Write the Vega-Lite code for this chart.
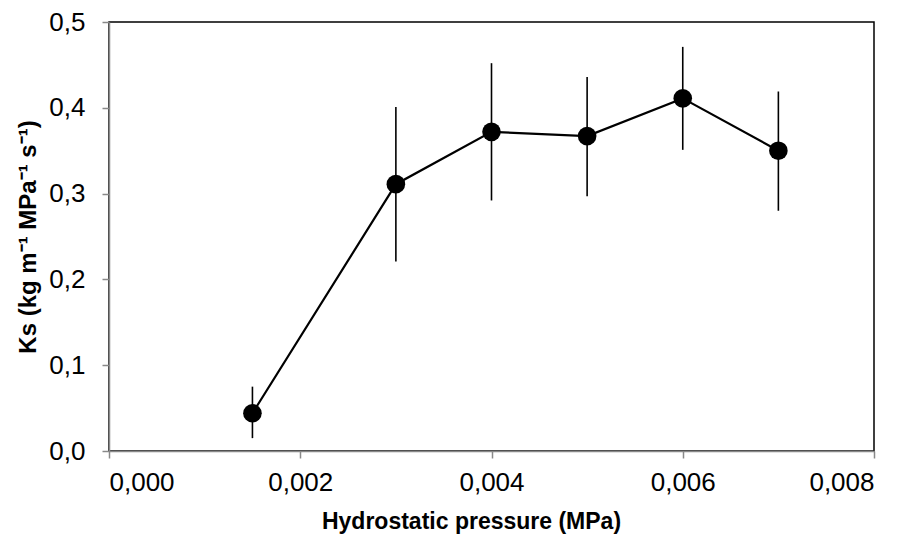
{
  "$schema": "https://vega.github.io/schema/vega-lite/v6.json",
  "width": 765,
  "height": 429,
  "autosize": {"type": "none"},
  "padding": {"left": 109, "top": 22, "right": 37, "bottom": 86},
  "background": "white",
  "config": {
    "view": {"stroke": "black", "strokeWidth": 1.5},
    "font": "Liberation Sans"
  },
  "data": {
    "values": [
      {"p": 0.0015, "ks": 0.044, "lo": 0.015, "hi": 0.075},
      {"p": 0.003, "ks": 0.311, "lo": 0.221, "hi": 0.401},
      {"p": 0.004, "ks": 0.372, "lo": 0.292, "hi": 0.452},
      {"p": 0.005, "ks": 0.367, "lo": 0.297, "hi": 0.436},
      {"p": 0.006, "ks": 0.411, "lo": 0.351, "hi": 0.471},
      {"p": 0.007, "ks": 0.350, "lo": 0.280, "hi": 0.419}
    ]
  },
  "encoding": {
    "x": {
      "field": "p", "type": "quantitative",
      "scale": {"domain": [0, 0.008], "nice": false, "zero": false},
      "axis": {
        "title": "Hydrostatic pressure (MPa)",
        "values": [0, 0.002, 0.004, 0.006, 0.008],
        "labelExpr": "replace(format(datum.value, '.3f'), '.', ',')",
        "grid": false,
        "domainColor": "#898989", "domainWidth": 1.5,
        "tickColor": "#898989", "tickWidth": 1.5, "tickSize": 7,
        "labelFont": "Liberation Sans", "labelFontSize": 26, "labelColor": "black",
        "labelPadding": 11,
        "titleFont": "Liberation Sans", "titleFontSize": 23, "titleFontWeight": "bold", "titleColor": "black",
        "titleX": 362, "titleY": 77, "titleBaseline": "alphabetic", "titleAlign": "center", "titleAnchor": "start"
      }
    }
  },
  "layer": [
    {
      "mark": {"type": "rule", "color": "black", "strokeWidth": 1.6},
      "encoding": {
        "y": {"field": "lo", "type": "quantitative"},
        "y2": {"field": "hi"}
      }
    },
    {
      "mark": {"type": "line", "color": "black", "strokeWidth": 2.2},
      "encoding": {
        "y": {"field": "ks", "type": "quantitative"}
      }
    },
    {
      "mark": {"type": "point", "filled": true, "color": "black", "opacity": 1, "size": 346},
      "encoding": {
        "y": {
          "field": "ks", "type": "quantitative",
          "scale": {"domain": [0, 0.5], "nice": false},
          "axis": {
            "title": "Ks (kg m⁻¹ MPa⁻¹ s⁻¹)",
            "values": [0, 0.1, 0.2, 0.3, 0.4, 0.5],
            "labelExpr": "replace(format(datum.value, '.1f'), '.', ',')",
            "grid": false,
            "domainColor": "#898989", "domainWidth": 1.5,
            "tickColor": "#898989", "tickWidth": 1.5, "tickSize": 7,
            "labelFont": "Liberation Sans", "labelFontSize": 26, "labelColor": "black",
            "labelPadding": 17,
            "titleFont": "Liberation Sans", "titleFontSize": 24, "titleFontWeight": "bold", "titleColor": "black",
            "titlePadding": 8
          }
        }
      }
    }
  ]
}
